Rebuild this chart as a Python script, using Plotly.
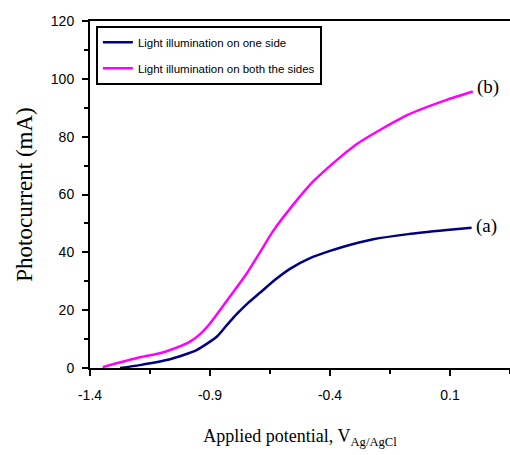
import plotly.graph_objects as go

# Series (a): light illumination on one side
x_a = [-1.275, -1.192, -1.067, -0.956, -0.872, -0.83, -0.789, -0.74, -0.692, -0.629,
       -0.567, -0.483, -0.4, -0.358, -0.22, -0.074, 0.086, 0.19]
y_a = [0.0, 1.0, 3.0, 6.2, 10.8, 14.8, 18.6, 22.6, 26.0, 30.5,
       34.3, 38.0, 40.5, 41.6, 44.5, 46.3, 47.7, 48.5]

# Series (b): light illumination on both the sides
x_b = [-1.347, -1.192, -1.108, -1.04, -0.983, -0.94, -0.9, -0.817, -0.747, -0.692, -0.636,
       -0.553, -0.47, -0.372, -0.289, -0.192, -0.074, 0.086, 0.195]
y_b = [0.3, 3.7, 5.1, 7.0, 9.1, 11.8, 15.4, 24.7, 32.7, 40.0, 47.5,
       56.5, 64.5, 71.9, 77.4, 82.3, 87.6, 92.7, 95.6]

names = ["Light illumination on one side", "Light illumination on both the sides"]
labels = ["(a)", "(b)"]
x_ticks = [-1.4, -0.9, -0.4, 0.1]
x_ticktext = ["-1.4", "-0.9", "-0.4", "0.1"]
y_ticks = [0, 20, 40, 60, 80, 100, 120]

colors = ["#000080", "#FF00FF"]

fig = go.Figure()
for xs, ys, nm, col, grp in [(x_a, y_a, names[0], colors[0], "a"),
                             (x_b, y_b, names[1], colors[1], "b")]:
    fig.add_trace(go.Scatter(
        x=xs, y=ys, mode="lines", name=nm, legendgroup=grp,
        line=dict(color=col, width=2.5, shape="spline", smoothing=0.6),
    ))

# End labels
for xs, ys, lab, ysh in [(x_a, y_a, labels[0], 2), (x_b, y_b, labels[1], 5)]:
    fig.add_annotation(
        x=xs[-1], y=ys[-1], text=lab, showarrow=False,
        xanchor="left", yanchor="middle", xshift=2, yshift=ysh,
        font=dict(family="Liberation Serif", size=19, color="black"),
    )

fig.update_layout(
    width=510, height=455,
    margin=dict(l=90, r=0, t=21, b=87),
    plot_bgcolor="white", paper_bgcolor="white",
    showlegend=True,
    legend=dict(
        x=0.014, y=0.986, xanchor="left", yanchor="top",
        bordercolor="black", borderwidth=2, bgcolor="white",
        font=dict(family="Liberation Sans", size=11.5, color="black"),
        traceorder="grouped", tracegroupgap=7,
    ),
    xaxis=dict(
        range=[-1.4, 0.35], tickvals=x_ticks, ticktext=x_ticktext,
        showgrid=False, zeroline=False,
        showline=True, linecolor="black", linewidth=2, mirror=True,
        ticks="outside", ticklen=6, tickwidth=1.5, tickcolor="black",
        minor=dict(dtick=0.25, tick0=-1.4, ticks="outside", ticklen=4,
                   tickwidth=1.5, tickcolor="black", showgrid=False),
        ticklabelstandoff=7,
        tickfont=dict(family="Liberation Sans", size=14, color="black"),
        title=dict(text="Applied potential, V<sub>Ag/AgCl</sub>", standoff=28,
                   font=dict(family="Liberation Serif", size=18, color="black")),
    ),
    yaxis=dict(
        range=[0, 120], tickvals=y_ticks,
        showgrid=False, zeroline=False,
        showline=True, linecolor="black", linewidth=2,
        ticks="outside", ticklen=6, tickwidth=1.5, tickcolor="black",
        minor=dict(dtick=10, tick0=0, ticks="outside", ticklen=4,
                   tickwidth=1.5, tickcolor="black", showgrid=False),
        ticklabelstandoff=5,
        tickfont=dict(family="Liberation Sans", size=14, color="black"),
        title=dict(text="Photocurrent (mA)", standoff=12,
                   font=dict(family="Liberation Serif", size=23, color="black")),
    ),
)

fig.write_html("out.html")
